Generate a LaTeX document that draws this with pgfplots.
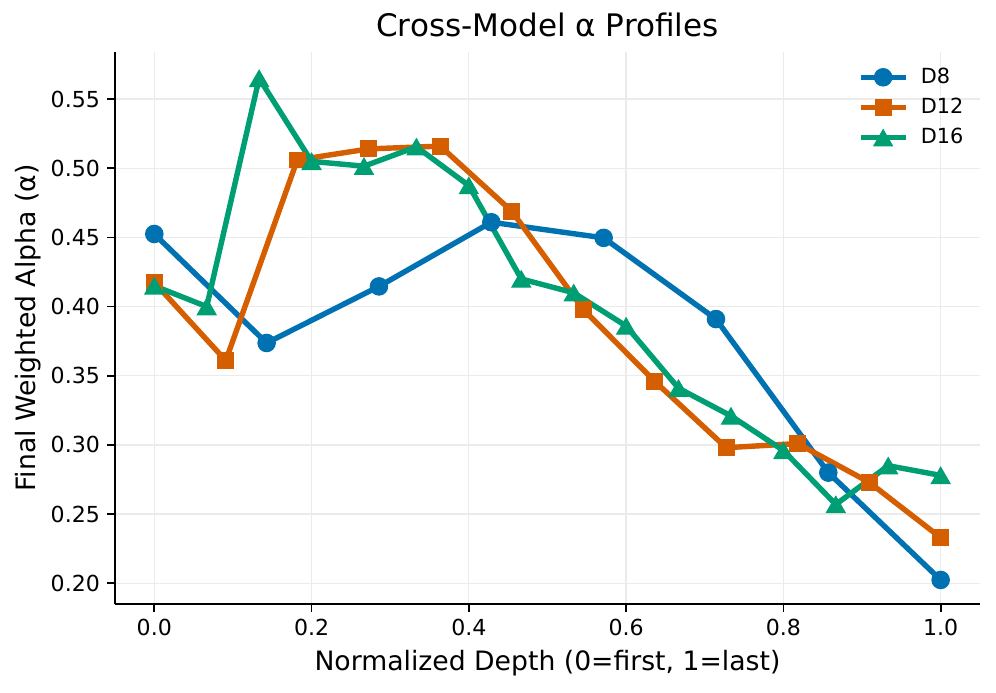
\documentclass[border=0pt]{standalone}
\usepackage{fontspec}
\setmainfont{DejaVu Sans}
\usepackage{pgfplots}
\pgfplotsset{compat=1.18}
\definecolor{cB}{HTML}{0072B2}
\definecolor{cO}{HTML}{D55E00}
\definecolor{cG}{HTML}{009E73}
\begin{document}
\begin{tikzpicture}
\path[use as bounding box] (-55.2pt,-42.7pt) rectangle (423pt,290pt);
\begin{axis}[
  at={(0,0)}, anchor=south west,
  scale only axis, width=415.3pt, height=265pt,
  xmin=-0.05, xmax=1.05, ymin=0.185, ymax=0.584,
  axis lines*=left,
  axis line style={line width=0.85pt, black},
  /pgf/number format/assume math mode=true,
  xtick={0,0.2,0.4,0.6,0.8,1.0},
  ytick={0.20,0.25,0.30,0.35,0.40,0.45,0.50,0.55},
  xticklabel style={/pgf/number format/.cd, fixed, fixed zerofill, precision=1},
  yticklabel style={/pgf/number format/.cd, fixed, fixed zerofill, precision=2},
  tick label style={font=\fontsize{10.6}{12}\selectfont},
  tick align=outside, tick pos=lower,
  major tick length=3.7pt,
  tick style={line width=0.85pt, black},
  grid=major,
  major grid style={line width=0.6pt, color=black!8},
  title={Cross-Model α Profiles},
  title style={font=\fontsize{14.9}{17}\selectfont, yshift=-2.5pt},
  xlabel={Normalized Depth (0=first, 1=last)},
  ylabel={Final Weighted Alpha (α)},
  label style={font=\fontsize{12.8}{15}\selectfont},
  xlabel style={yshift=0pt},
  ylabel style={yshift=-2pt},
  legend style={draw=none, fill=none, at={(1.003,0.987)}, anchor=north east,
    font=\fontsize{10}{12}\selectfont, row sep=1.6pt, nodes={inner xsep=6pt}},
  legend cell align=left,
  legend image code/.code={\draw[mark repeat=2,mark phase=2] plot coordinates {(0cm,0cm) (0.38cm,0cm) (0.76cm,0cm)};},
]
\addplot[cB, line width=2.6pt, mark=*, mark size=4.2pt, mark options={solid, fill=cB, draw=cB, line width=0.5pt}] coordinates {
(0.000000,0.4525) (0.142857,0.3737) (0.285714,0.4146) (0.428571,0.4610)
(0.571429,0.4497) (0.714286,0.3910) (0.857143,0.2800) (1.000000,0.2024)
};
\addlegendentry{D8}
\addplot[cO, line width=2.6pt, mark=square*, mark size=3.8pt, mark options={solid, fill=cO, draw=cO, line width=0.5pt}] coordinates {
(0.000000,0.4175) (0.090909,0.3610) (0.181818,0.5060) (0.272727,0.5140)
(0.363636,0.5160) (0.454545,0.4690) (0.545455,0.3980) (0.636364,0.3460)
(0.727273,0.2980) (0.818182,0.3010) (0.909091,0.2730) (1.000000,0.2330)
};
\addlegendentry{D12}
\addplot[cG, line width=2.6pt, mark=triangle*, mark size=5.2pt, mark options={solid, fill=cG, draw=cG, line width=0.5pt, yshift=-1.3pt}] coordinates {
(0.000000,0.4150) (0.066667,0.4000) (0.133333,0.5650) (0.200000,0.5050)
(0.266667,0.5015) (0.333333,0.5155) (0.400000,0.4875) (0.466667,0.4200)
(0.533333,0.4100) (0.600000,0.3860) (0.666667,0.3410) (0.733333,0.3210)
(0.800000,0.2960) (0.866667,0.2570) (0.933333,0.2850) (1.000000,0.2780)
};
\addlegendentry{D16}
\end{axis}
\end{tikzpicture}
\end{document}
